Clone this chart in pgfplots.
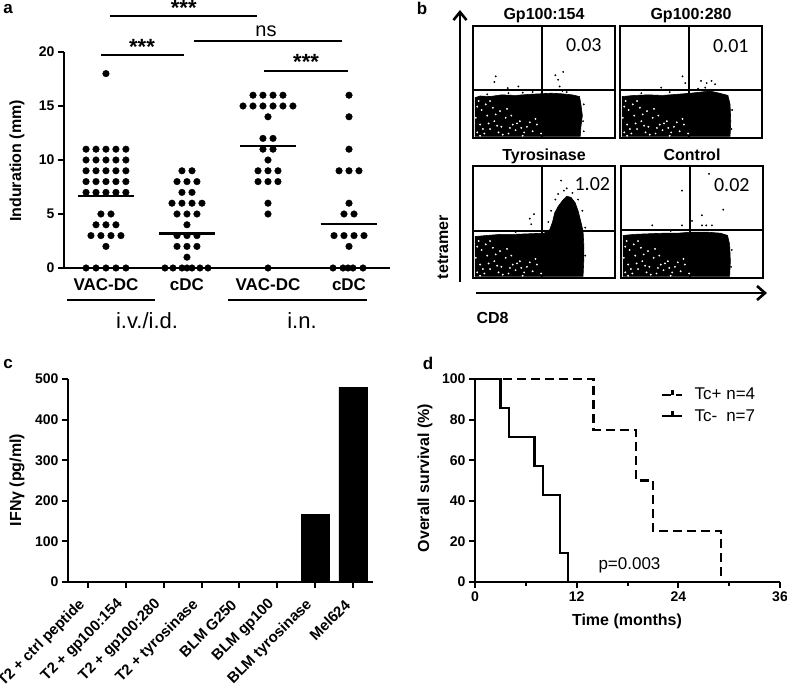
\documentclass[border=0pt]{standalone}
\usepackage{fontspec}
\setmainfont{Liberation Sans}
\newfontfamily\calibri{Carlito}
\usepackage{pgfplots}
\usepackage{pgfplotstable}
\pgfplotsset{compat=1.18}
\usetikzlibrary{arrows.meta}

\newcommand{\fA}{\fontsize{16pt}{19pt}\selectfont\bfseries}
\newcommand{\fT}{\fontsize{14pt}{17pt}\selectfont\bfseries}
\newcommand{\fN}{\fontsize{17pt}{20pt}\selectfont}

\pgfplotsset{
  every axis/.append style={
    /pgf/number format/assume math mode=true,
    scale only axis, clip=false,
    tick style={black, line width=2pt},
  },
  flow/.style={scale only axis, width=142pt, height=112pt,
    xmin=0, xmax=1, ymin=0, ymax=1, xtick=\empty, ytick=\empty,
    axis line style={line width=1.8pt}, anchor=south west, clip=false},
}

% white speckles in the dense population (box fractions)
\pgfplotstableread{
x y
0.03 0.05
0.05 0.12
0.08 0.04
0.10 0.20
0.12 0.08
0.15 0.15
0.18 0.05
0.20 0.10
0.23 0.18
0.25 0.04
0.28 0.12
0.30 0.07
0.33 0.15
0.36 0.05
0.38 0.10
0.42 0.06
0.06 0.25
0.09 0.30
0.04 0.33
0.14 0.27
0.45 0.12
0.02 0.18
0.07 0.08
0.11 0.13
0.16 0.21
0.21 0.03
0.26 0.09
0.31 0.13
0.35 0.02
0.40 0.14
0.03 0.28
0.12 0.33
0.19 0.24
0.24 0.26
0.48 0.04
0.05 0.02
0.17 0.11
0.27 0.20
0.34 0.09
0.44 0.17
}\speck

\begin{document}
\begin{tikzpicture}[x=1pt,y=1pt]
\path[use as bounding box] (0,0) rectangle (787,685);
\coordinate (PA) at (64,417);
\coordinate (PC) at (68,103);
\coordinate (PD) at (475,103);
\coordinate (B1) at (473,547);
\coordinate (B2) at (620,547);
\coordinate (B3) at (473,407);
\coordinate (B4) at (621,407);

% ================= panel a =================
\node[font=\fontsize{17pt}{20pt}\selectfont\bfseries] at (8,676) {a};
\node[rotate=90, font=\fA] at (17,524) {Induration (mm)};
\begin{axis}[at={(PA)}, anchor=south west, width=326pt, height=216pt,
  xmin=0.482, xmax=4.506, ymin=0, ymax=20,
  axis x line=bottom, axis y line=left,
  axis line style={-, line width=2.6pt},
  xtick=\empty, ytick={0,5,10,15,20},
  tick align=outside, major tick length=6pt,
  yticklabel style={font=\fT},
]
% VAC-DC i.v./i.d.
\addplot[only marks, mark=*, mark size=3.3pt, black] coordinates {
(1.000,18)
(0.754,11)(0.877,11)(1.000,11)(1.123,11)(1.246,11)
(0.754,10)(0.877,10)(1.000,10)(1.123,10)(1.246,10)
(0.754,9)(0.877,9)(1.000,9)(1.123,9)(1.246,9)
(0.754,8)(0.877,8)(1.000,8)(1.123,8)(1.246,8)
(0.754,7)(0.877,7)(1.000,7)(1.123,7)(1.246,7)
(0.938,5)(1.062,5)
(0.877,4)(1.000,4)(1.123,4)
(0.815,3)(0.938,3)(1.062,3)(1.185,3)
(1.000,2)
(0.754,0)(0.877,0)(1.000,0)(1.123,0)(1.246,0)
};
% cDC i.v./i.d.
\addplot[only marks, mark=*, mark size=3.3pt, black] coordinates {
(1.938,9)(2.062,9)
(1.877,8)(2.000,8)(2.123,8)
(1.938,7)(2.062,7)
(1.815,6)(1.938,6)(2.062,6)(2.185,6)
(1.877,5)(2.000,5)(2.123,5)
(2.000,4)
(1.877,3)(2.000,3)(2.123,3)
(1.877,2)(2.000,2)(2.123,2)
(2.000,1)
(1.728,0)(1.827,0)(1.938,0)(2.000,0)(2.062,0)(2.160,0)(2.259,0)
};
% VAC-DC i.n.
\addplot[only marks, mark=*, mark size=3.3pt, black] coordinates {
(2.815,16)(2.938,16)(3.062,16)(3.185,16)
(2.692,15)(2.815,15)(2.938,15)(3.062,15)(3.185,15)(3.308,15)
(3.000,14)
(2.938,12)(3.062,12)
(2.938,11)(3.062,11)
(3.000,10)
(2.877,9)(3.000,9)(3.123,9)
(2.877,8)(3.000,8)(3.123,8)
(3.000,6)
(3.000,5)
(3.000,0)
};
% cDC i.n.
\addplot[only marks, mark=*, mark size=3.3pt, black] coordinates {
(4.000,16)
(4.000,14)
(4.000,11)
(3.877,9)(4.000,9)(4.123,9)
(4.000,6)
(3.938,5)(4.062,5)
(3.815,3)(3.938,3)(4.062,3)(4.185,3)
(4.000,2)
(3.802,0)(3.926,0)(3.988,0)(4.049,0)(4.173,0)
};
% means
\addplot[black, line width=2.2pt] coordinates {(0.65,6.7) (1.35,6.7)};
\addplot[black, line width=2.2pt] coordinates {(1.65,3.2) (2.35,3.2)};
\addplot[black, line width=2.2pt] coordinates {(2.65,11.3) (3.35,11.3)};
\addplot[black, line width=2.2pt] coordinates {(3.65,4.1) (4.35,4.1)};
% significance bars
\addplot[black, line width=2.2pt] coordinates {(1.05,23.3) (2.865,23.3)};
\addplot[black, line width=2.2pt] coordinates {(0.94,19.7) (1.96,19.7)};
\addplot[black, line width=2.2pt] coordinates {(2.087,21.0) (3.914,21.0)};
\addplot[black, line width=2.2pt] coordinates {(2.951,18.24) (3.988,18.24)};
\node[anchor=base, font=\fontsize{22pt}{24pt}\selectfont\bfseries] at (axis cs:1.96,23.4) {***};
\node[anchor=base, font=\fontsize{22pt}{24pt}\selectfont\bfseries] at (axis cs:1.445,19.8) {***};
\node[anchor=base, font=\fontsize{20pt}{24pt}\selectfont] at (axis cs:2.976,21.0) [yshift=5pt] {ns};
\node[anchor=base, font=\fontsize{22pt}{24pt}\selectfont\bfseries] at (axis cs:3.47,18.34) {***};
% category labels and groups
\node[anchor=base, font=\fontsize{17pt}{20pt}\selectfont\bfseries] at (axis cs:1,-2.13) {VAC-DC};
\node[anchor=base, font=\fontsize{17pt}{20pt}\selectfont\bfseries] at (axis cs:2,-2.13) {cDC};
\node[anchor=base, font=\fontsize{17pt}{20pt}\selectfont\bfseries] at (axis cs:3,-2.13) {VAC-DC};
\node[anchor=base, font=\fontsize{17pt}{20pt}\selectfont\bfseries] at (axis cs:4,-2.13) {cDC};
\addplot[black, line width=2.4pt] coordinates {(0.519,-2.96) (1.605,-2.96)};
\addplot[black, line width=2.4pt] coordinates {(2.507,-2.96) (4.223,-2.96)};
\node[anchor=base, font=\fontsize{22pt}{24pt}\selectfont] at (axis cs:1.507,-5.56) {i.v./i.d.};
\node[anchor=base, font=\fontsize{22pt}{24pt}\selectfont] at (axis cs:3.42,-5.56) {i.n.};
\end{axis}

% ================= panel b =================
\node[font=\fontsize{17pt}{20pt}\selectfont\bfseries] at (422,677) {b};
\draw[line width=2.6pt, -{Straight Barb[length=8pt,width=13pt]}] (460,403) -- (460,675);
\draw[line width=2.6pt, -{Straight Barb[length=8pt,width=14pt]}] (476,392) -- (767,392);
\node[rotate=90, font=\fA] at (443,438) {tetramer};
\node[anchor=west, font=\fA] at (473,367) {CD8};

% Gp100:154
\begin{axis}[flow, at={(B1)}]
\addplot[fill=black, draw=black, line width=0.6pt] coordinates {
(0.015,0.015) (0.015,0.36) (0.05,0.375) (0.12,0.37) (0.20,0.385) (0.30,0.38)
(0.40,0.39) (0.48,0.395) (0.55,0.40) (0.62,0.395) (0.70,0.385) (0.75,0.37)
(0.76,0.30) (0.77,0.20) (0.76,0.10) (0.755,0.015)} -- cycle;
\addplot[only marks, mark=*, mark size=0.7pt, white] table {\speck};
\addplot[only marks, mark=*, mark size=0.7pt, black] coordinates {
(0.15,0.50)(0.16,0.55)(0.245,0.445)(0.32,0.46)(0.58,0.56)(0.60,0.52)(0.635,0.59)
(0.61,0.46)(0.57,0.43)(0.63,0.42)(0.25,0.40)(0.35,0.405)(0.42,0.41)(0.78,0.30)
(0.775,0.15)(0.78,0.06)(0.10,0.39)(0.66,0.41)};
\addplot[black, line width=1.8pt] coordinates {(0.485,0) (0.485,1)};
\addplot[black, line width=1.8pt] coordinates {(0,0.425) (1,0.425)};
\node[anchor=base east, font=\calibri\fontsize{20pt}{24pt}\selectfont] at (axis cs:0.93,0.77) {0.03};
\node[anchor=base, font=\fA] at (axis cs:0.5,1) [yshift=6pt] {Gp100:154};
\end{axis}

% Gp100:280
\begin{axis}[flow, at={(B2)}]
\addplot[fill=black, draw=black, line width=0.6pt] coordinates {
(0.015,0.015) (0.015,0.37) (0.10,0.38) (0.20,0.385) (0.30,0.38) (0.40,0.39)
(0.50,0.40) (0.57,0.41) (0.63,0.42) (0.70,0.40) (0.76,0.38) (0.775,0.30)
(0.78,0.15) (0.775,0.015)} -- cycle;
\addplot[only marks, mark=*, mark size=0.7pt, white] table {\speck};
\addplot[only marks, mark=*, mark size=0.7pt, black] coordinates {
(0.44,0.55)(0.46,0.49)(0.57,0.51)(0.61,0.49)(0.645,0.51)(0.67,0.48)(0.29,0.45)
(0.15,0.40)(0.55,0.44)(0.60,0.45)(0.79,0.25)(0.785,0.08)(0.35,0.41)};
\addplot[black, line width=1.8pt] coordinates {(0.485,0) (0.485,1)};
\addplot[black, line width=1.8pt] coordinates {(0,0.43) (1,0.43)};
\node[anchor=base east, font=\calibri\fontsize{20pt}{24pt}\selectfont] at (axis cs:0.93,0.76) {0.01};
\node[anchor=base, font=\fA] at (axis cs:0.5,1) [yshift=6pt] {Gp100:280};
\end{axis}

% Tyrosinase
\begin{axis}[flow, at={(B3)}]
\addplot[fill=black, draw=black, line width=0.6pt] coordinates {
(0.015,0.015) (0.015,0.37) (0.10,0.38) (0.20,0.39) (0.30,0.39) (0.40,0.395)
(0.50,0.40) (0.54,0.43) (0.56,0.50) (0.575,0.58) (0.60,0.64) (0.63,0.69)
(0.66,0.73) (0.69,0.72) (0.72,0.67) (0.74,0.60) (0.76,0.50) (0.775,0.42)
(0.78,0.30) (0.78,0.15) (0.775,0.015)} -- cycle;
\addplot[only marks, mark=*, mark size=0.7pt, white] table {\speck};
\addplot[only marks, mark=*, mark size=0.7pt, black] coordinates {
(0.62,0.87)(0.66,0.80)(0.40,0.53)(0.43,0.57)(0.41,0.48)(0.55,0.60)(0.58,0.70)
(0.74,0.70)(0.77,0.60)(0.60,0.75)(0.70,0.76)(0.53,0.50)(0.79,0.45)(0.64,0.78)
(0.30,0.41)(0.79,0.20)};
\addplot[black, line width=1.8pt] coordinates {(0.486,0) (0.486,1)};
\addplot[black, line width=1.8pt] coordinates {(0,0.42) (1,0.42)};
\node[anchor=base east, font=\calibri\fontsize{20pt}{24pt}\selectfont] at (axis cs:0.99,0.78) {1.02};
\node[anchor=base, font=\fA] at (axis cs:0.5,1) [yshift=5pt] {Tyrosinase};
\end{axis}

% Control
\begin{axis}[flow, at={(B4)}]
\addplot[fill=black, draw=black, line width=0.6pt] coordinates {
(0.015,0.015) (0.015,0.38) (0.10,0.39) (0.20,0.395) (0.30,0.40) (0.40,0.40)
(0.50,0.41) (0.60,0.41) (0.70,0.40) (0.75,0.38) (0.765,0.30) (0.77,0.15)
(0.765,0.015)} -- cycle;
\addplot[only marks, mark=*, mark size=0.7pt, white] table {\speck};
\addplot[only marks, mark=*, mark size=0.7pt, black] coordinates {
(0.62,0.93)(0.43,0.78)(0.72,0.61)(0.57,0.56)(0.50,0.51)(0.22,0.47)(0.43,0.47)
(0.57,0.47)(0.60,0.47)(0.64,0.47)(0.78,0.25)(0.775,0.10)(0.35,0.42)};
\addplot[black, line width=1.8pt] coordinates {(0.485,0) (0.485,1)};
\addplot[black, line width=1.8pt] coordinates {(0,0.426) (1,0.426)};
\node[anchor=base east, font=\calibri\fontsize{20pt}{24pt}\selectfont] at (axis cs:0.93,0.77) {0.02};
\node[anchor=base, font=\fA] at (axis cs:0.5,1) [yshift=5pt] {Control};
\end{axis}

% ================= panel c =================
\node[font=\fontsize{17pt}{20pt}\selectfont\bfseries] at (8,321) {c};
\node[rotate=90, font=\fA] at (17,205) {IFNγ (pg/ml)};
\begin{axis}[at={(PC)}, anchor=south west, width=305pt, height=203pt,
  xmin=-0.528, xmax=7.53, ymin=0, ymax=500,
  axis x line=bottom, axis y line=left,
  axis line style={-, line width=2.6pt},
  ybar, bar width=28pt, bar shift=0pt,
  xtick={0,1,2,3,4,5,6,7},
  xticklabels={T2 + ctrl peptide, T2 + gp100:154, T2 + gp100:280, T2 + tyrosinase, BLM G250, BLM gp100, BLM tyrosinase, Mel624},
  ytick={0,100,200,300,400,500},
  tick align=outside, major tick length=6pt,
  xticklabel style={xshift=-3pt, yshift=-12pt, rotate=45, anchor=east, font=\fontsize{15pt}{18pt}\selectfont\bfseries},
  yticklabel style={font=\fT},
]
\addplot[fill=black, draw=black, line width=0.4pt] coordinates {
(0,0) (1,0) (2,0) (3,0) (4,0) (5,0) (6,167) (7,480)};
\end{axis}

% ================= panel d =================
\node[font=\fontsize{17pt}{20pt}\selectfont\bfseries] at (428,322) {d};
\node[rotate=90, font=\fA] at (425,207) {Overall survival (\%)};
\node[font=\fA] at (627,64) {Time (months)};
\begin{axis}[at={(PD)}, anchor=south west, width=305pt, height=203pt,
  xmin=0, xmax=36, ymin=0, ymax=100,
  axis x line=bottom, axis y line=left,
  axis line style={-, line width=2.6pt},
  xtick={0,12,24,36}, minor xtick={6,18,30}, ytick={0,20,40,60,80,100},
  tick align=outside, major tick length=6pt, minor tick length=4pt,
  xticklabel style={font=\fT}, yticklabel style={font=\fT},
  legend style={at={(axis description cs:0.61,0.965)}, anchor=north west,
    draw=none, fill=none, font=\fN, inner sep=0pt, row sep=4pt},
  legend cell align=left,
  legend image code/.code={
    \draw[#1] (0pt,0pt) -- (20pt,0pt);
    \draw[#1, solid] (10pt,0pt) -- (10pt,5pt);},
]
\addplot[black, line width=2.4pt, dash pattern=on 9pt off 5pt, const plot] coordinates {
(0,100) (14,75) (19,50) (21,25) (29,0)};
\addlegendentry{\hspace{9pt}Tc+ n=4}
\addplot[black, line width=2.4pt, const plot] coordinates {
(0,100) (3,85.7) (4,71.4) (7,57.1) (8,42.9) (10,14.3) (11,0)};
\addlegendentry{\hspace{9pt}Tc-\hspace{0.25em} n=7}
\node[anchor=base west, font=\fN] at (axis cs:14.16,6.4) {p=0.003};
\end{axis}
\end{tikzpicture}
\end{document}
